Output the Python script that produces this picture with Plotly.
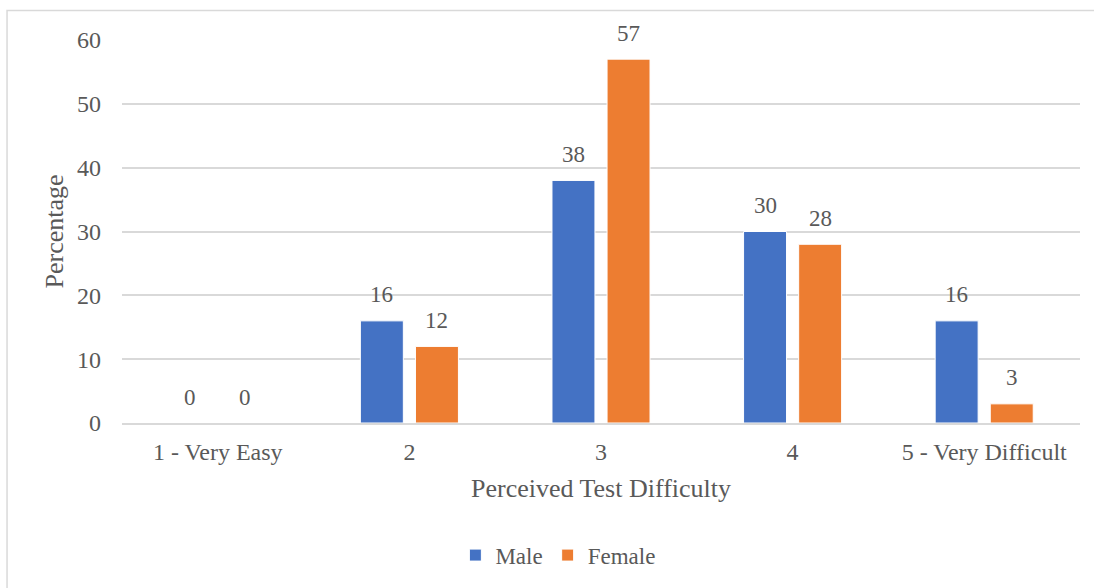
import plotly.graph_objects as go

categories = ["1 - Very Easy", "2", "3", "4", "5 - Very Difficult"]
male = [0, 16, 38, 30, 16]
female = [0, 12, 57, 28, 3]

FONT = "Liberation Serif, Times New Roman, serif"
TXT = "#595959"
LABEL = dict(family=FONT, size=23, color=TXT)

fig = go.Figure()
fig.add_trace(go.Bar(
    name="Male", x=categories, y=male,
    marker=dict(color="#4472C4", line=dict(color="white", width=1)),
))
fig.add_trace(go.Bar(
    name="Female", x=categories, y=female,
    marker=dict(color="#ED7D31", line=dict(color="white", width=1)),
))

# value labels above each bar (x given as category index), shifted over its bar in the group
for series, dx in ((male, -27.5), (female, 27.5)):
    for i, v in enumerate(series):
        fig.add_annotation(x=i, y=v, text=str(v), showarrow=False,
                           xshift=dx, yshift=26, yanchor="middle", font=LABEL)

fig.update_layout(
    width=1094, height=588,
    paper_bgcolor="white", plot_bgcolor="white",
    margin=dict(l=122, r=14, t=40, b=162),
    barmode="group", bargap=0.425, bargroupgap=0.22,
    font=dict(family=FONT, size=23, color=TXT),
    showlegend=True,
    legend=dict(orientation="h", x=0.455, xanchor="center", y=-0.345, yanchor="middle",
                font=dict(family=FONT, size=23, color=TXT), itemwidth=30, tracegroupgap=0),
    shapes=[dict(type="rect", xref="paper", yref="paper",
                 x0=-0.1200, x1=1.05, y0=-0.55, y1=1.0768,
                 line=dict(color="#D9D9D9", width=1.5))],
)
fig.update_xaxes(
    type="category",
    showgrid=False, showline=True, linecolor="#D9D9D9", linewidth=1.5,
    ticks="", ticklabelstandoff=6, tickfont=dict(family=FONT, size=24, color=TXT),
    title=dict(text="Perceived Test Difficulty", font=dict(family=FONT, size=26, color=TXT), standoff=15),
)
fig.update_yaxes(
    range=[0, 60], dtick=10, showgrid=True, gridcolor="#D9D9D9", gridwidth=1.5,
    zeroline=False, showline=False, ticks="", ticklabelstandoff=20,
    tickfont=dict(family=FONT, size=24, color=TXT),
    title=dict(text="Percentage", font=dict(family=FONT, size=26, color=TXT), standoff=5),
)

fig.write_html("out.html")
